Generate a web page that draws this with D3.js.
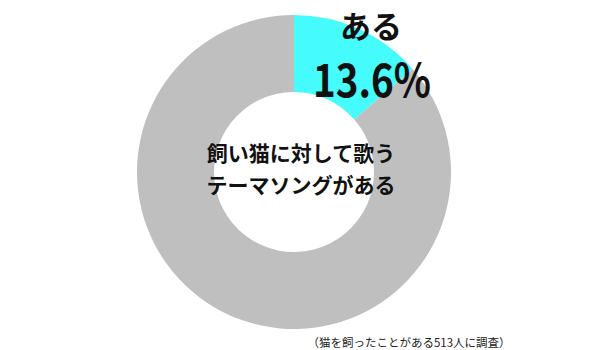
<!DOCTYPE html>
<html><head><meta charset="utf-8">
<script src="https://cdn.jsdelivr.net/npm/d3@7"></script>
<style>
html,body{margin:0;padding:0;background:#fff;}
svg{display:block;font-family:"Noto Sans CJK JP","Noto Sans",sans-serif;}
</style></head>
<body>
<svg id="chart" width="600" height="350"></svg>
<script>
const categories = ["ある", "ない"];
const values = [13.6, 86.4];
const colors = ["#46fbfb", "#bfbfbf"];
const centerLines = ["飼い猫に対して歌う", "テーマソングがある"];
const highlightLabel = "ある";
const highlightValue = "13.6%";
const footnote = "（猫を飼ったことがある513人に調査）";

const svg = d3.select("#chart");
const cx = 294, cy = 172, outerR = 157, innerR = 80;

const pie = d3.pie().sort(null).value(d => d)(values);
const arc = d3.arc().innerRadius(innerR).outerRadius(outerR);

const g = svg.append("g").attr("transform", `translate(${cx},${cy})`);
g.selectAll("path").data(pie).join("path")
  .attr("d", arc)
  .attr("fill", (d, i) => colors[i]);

g.selectAll("text.center").data(centerLines).join("text")
  .attr("class", "center")
  .attr("x", 7)
  .attr("y", (d, i) => -20 + i * 32)
  .attr("text-anchor", "middle")
  .attr("dominant-baseline", "central")
  .attr("font-size", 21)
  .attr("font-weight", "bold")
  .attr("fill", "#111")
  .text(d => d);

svg.append("text")
  .attr("x", 371).attr("y", 24)
  .attr("text-anchor", "middle")
  .attr("dominant-baseline", "central")
  .attr("font-size", 31)
  .attr("font-weight", "bold")
  .attr("fill", "#111")
  .text(highlightLabel);

svg.append("text")
  .attr("x", 313).attr("y", 77)
  .attr("text-anchor", "start")
  .attr("dominant-baseline", "central")
  .attr("font-size", 46)
  .attr("font-weight", "bold")
  .attr("textLength", 118)
  .attr("lengthAdjust", "spacingAndGlyphs")
  .attr("fill", "#111")
  .text(highlightValue);

svg.append("text")
  .attr("x", 409).attr("y", 342)
  .attr("text-anchor", "middle")
  .attr("dominant-baseline", "central")
  .attr("font-size", 11.5)
  .attr("fill", "#222")
  .text(footnote);
</script>
</body></html>
